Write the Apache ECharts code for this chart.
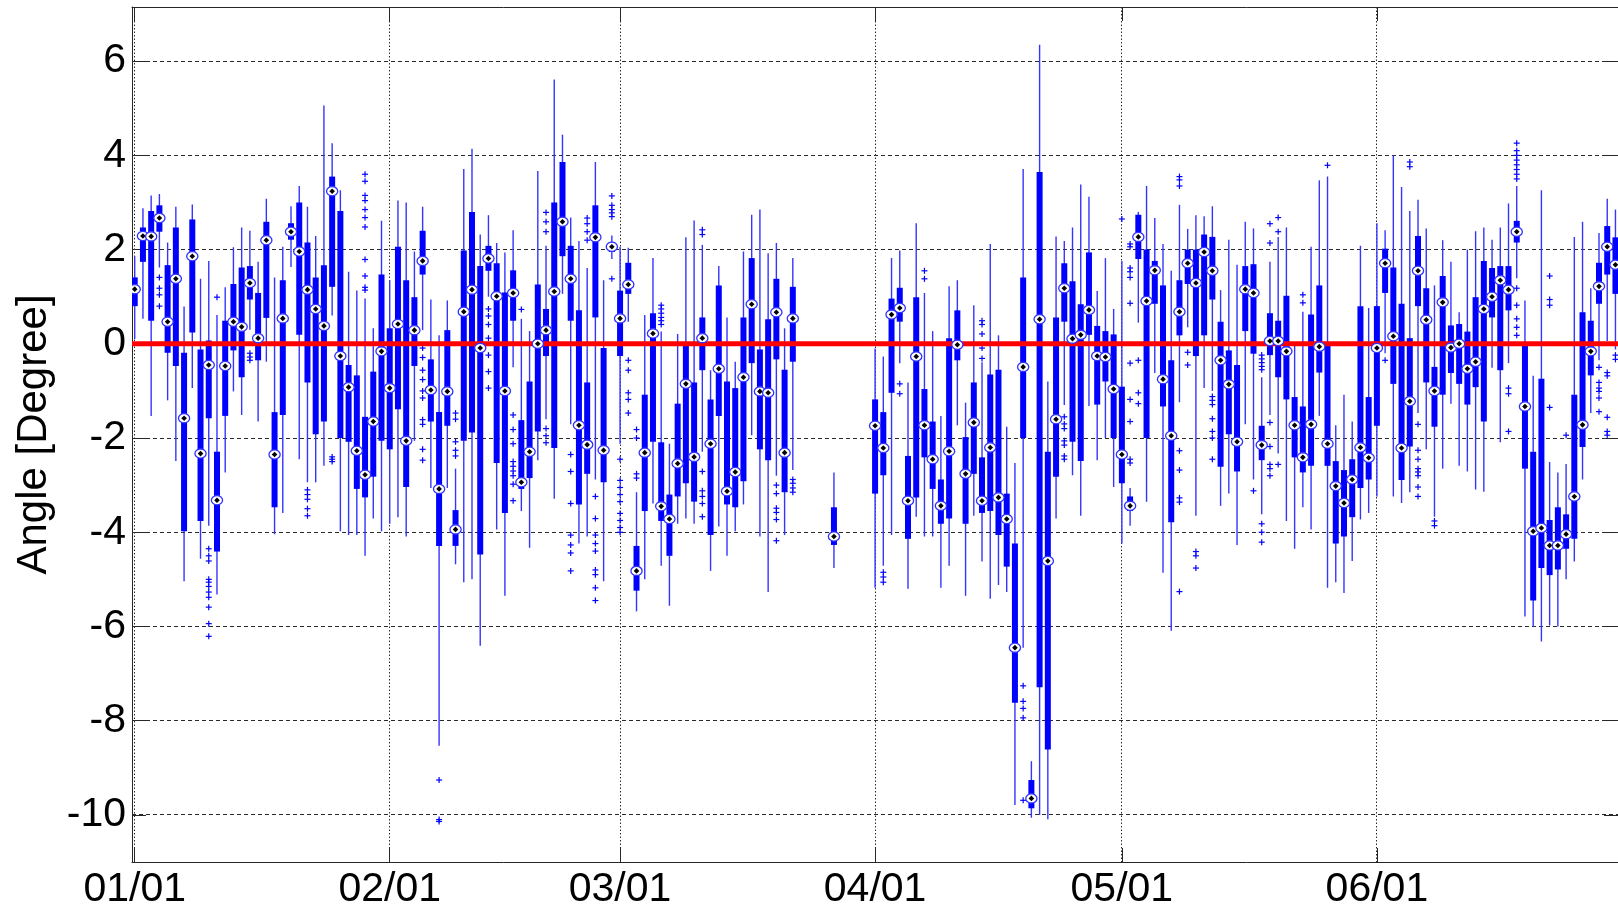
<!DOCTYPE html>
<html>
<head>
<meta charset="utf-8">
<script src="https://cdn.jsdelivr.net/npm/echarts@6/dist/echarts.min.js"></script>
<style>
html,body{margin:0;padding:0;background:#ffffff;}
#chart{width:1618px;height:911px;}
</style>
</head>
<body>
<div id="chart"></div>
<script>
// ---------------- DATA ----------------
// day of year (0 = 01/01)
const days = [
  0,1,2,3,4,5,6,7,8,9,
  10,11,12,13,14,15,16,17,18,19,
  20,21,22,23,24,25,26,27,28,29,
  30,31,32,33,34,35,36,37,38,39,
  40,41,42,43,44,45,46,47,48,49,
  50,51,52,53,54,55,56,57,58,59,
  60,61,62,63,64,65,66,67,68,69,
  70,71,72,73,74,75,76,77,78,79,
  80,
  85,
  90,91,92,93,94,95,96,97,98,99,
  100,101,102,103,104,105,106,107,108,109,
  110,111,112,113,114,115,116,117,118,119,
  120,121,122,123,124,125,126,127,128,129,
  130,131,132,133,134,135,136,137,138,139,
  140,141,142,143,144,145,146,147,148,149,
  150,151,152,153,154,155,156,157,158,159,
  160,161,162,163,164,165,166,167,168,169,
  170,171,172,173,174,175,176,177,178,179,180
];
const whiskerLow = [
  0.1,0.53,-1.53,1.62,-1.2,-2.49,-5.04,-0.94,-4.56,-3.86,
  -5.32,-2.73,-1.01,-1.51,0.3,-1.65,-0.38,-4.04,-3.59,1.63,
  -2.45,-2.94,-2.94,-2.59,0.6,-3.98,-4.06,-4.06,-4.5,-3.71,
  -3.98,-3.82,-3.68,-4.09,-2.06,0.29,-3.06,-8.53,-3.06,-4.68,
  -5.06,-5.0,-6.41,1.0,-3.94,-5.35,-0.5,-3.55,-4.33,-2.47,
  -1.6,-3.29,1.06,-1.71,-4.24,-4.09,-2.88,-5.04,1.8,-2.12,
  0.47,-5.68,-5.0,-3.39,-4.71,-5.56,-3.82,-3.71,-3.82,-2.29,
  -4.82,-3.88,-4.5,-3.98,-3.41,-1.94,-4.09,-5.27,-2.8,-4.06,
  -2.68,
  -4.76,
  -5.18,-4.71,-4.06,-0.41,-5.2,-3.67,-4.09,-4.09,-5.18,-4.71,
  -1.73,-5.35,-3.65,-4.62,-5.41,-5.12,-5.27,-9.79,-6.45,-10.06,
  -10.0,-10.09,-3.71,-1.3,-2.79,-3.65,-1.32,-2.47,-2.0,-3.04,
  -4.24,-3.86,0.45,-3.35,-0.62,-4.86,-6.09,-1.24,0.35,-3.65,
  -0.94,-1.0,-3.44,-3.18,-4.27,-1.71,-2.88,-3.62,-1.51,-2.33,
  -3.76,-4.35,-3.47,-3.94,-1.53,-5.18,-5.06,-5.29,-4.61,-3.73,
  -3.59,-3.24,-0.2,-3.24,-3.38,-3.15,-1.47,-2.24,-3.67,-2.65,
  -1.27,-2.59,-2.71,-3.09,-3.14,-0.51,-2.09,-0.41,1.39,-5.79,
  -6.0,-6.32,-5.98,-6.0,-5.0,-4.62,-2.88,-1.47,-0.35,0.06,-0.12
];
const q1 = [
  0.8,1.74,0.49,2.38,-0.19,-0.47,-3.98,0.24,-3.76,-1.58,
  -4.41,-1.53,-0.14,-0.71,0.94,-0.35,0.55,-3.47,-1.51,2.21,
  0.19,-0.82,-1.92,-1.65,1.21,-2.0,-2.08,-3.08,-3.26,-2.82,
  -2.06,-2.24,-1.39,-3.04,-0.47,1.47,-1.65,-4.29,-1.74,-4.29,
  -2.06,-1.88,-4.47,1.55,-2.53,-3.59,0.49,-3.08,-2.85,-1.86,
  -0.26,-2.21,1.86,0.49,-3.41,-2.76,0.56,-2.94,1.95,-0.26,
  1.06,-5.24,-3.55,-2.08,-3.76,-4.5,-3.24,-2.96,-3.35,-0.56,
  -4.06,-1.53,-3.41,-3.47,-2.92,-0.41,-2.24,-2.47,-0.33,-3.15,
  -0.38,
  -4.27,
  -3.18,-2.79,-1.04,0.47,-4.14,-3.26,-2.41,-3.08,-3.82,-3.71,
  -0.35,-3.82,-2.76,-3.59,-3.55,-4.06,-4.73,-7.62,-2.0,-9.86,
  -7.29,-8.61,-2.82,0.47,-2.08,-2.49,0.19,-1.29,-0.8,-2.0,
  -2.96,-3.55,1.8,-2.0,0.85,-1.33,-3.79,0.18,1.27,-0.26,
  0.18,0.94,-2.61,-1.92,-2.71,0.27,-0.21,-2.47,-0.24,-0.71,
  -1.18,-2.41,-2.73,-2.59,-0.61,-2.59,-4.24,-4.09,-3.68,-3.06,
  -2.88,-1.74,1.08,-0.85,-2.89,-2.18,0.8,-0.82,-1.76,-1.08,
  -0.62,-0.85,-1.29,-0.92,-1.65,0.56,-0.56,0.71,2.15,-2.65,
  -5.45,-4.76,-4.91,-4.79,-4.35,-4.14,-2.19,-0.67,0.85,1.47,1.06
];
const median = [
  1.16,2.29,2.28,2.67,0.47,1.38,-1.58,1.86,-2.33,-0.45,
  -3.32,-0.47,0.47,0.36,1.29,0.12,2.2,-2.35,0.54,2.38,
  1.96,1.15,0.74,0.38,3.24,-0.26,-0.92,-2.27,-2.78,-1.65,
  -0.16,-0.94,0.42,-2.06,0.29,1.76,-0.98,-3.08,-1.01,-3.94,
  0.68,1.15,-0.09,1.81,1.01,-1.0,1.08,-2.94,-2.29,0.0,
  0.29,1.11,2.59,1.38,-1.73,-2.14,2.26,-2.26,2.06,0.54,
  1.26,-4.82,-2.31,0.22,-3.45,-3.72,-2.54,-0.85,-2.4,0.12,
  -2.12,-0.53,-3.13,-2.72,-0.71,0.84,-1.01,-1.04,0.67,-2.31,
  0.54,
  -4.09,
  -1.74,-2.21,0.62,0.76,-3.33,-0.27,-1.73,-2.45,-3.44,-2.28,
  -0.02,-2.76,-1.67,-3.33,-2.2,-3.26,-3.72,-6.45,-0.49,-9.65,
  0.52,-4.61,-1.6,1.18,0.11,0.19,0.72,-0.26,-0.28,-0.96,
  -2.35,-3.44,2.27,0.91,1.56,-0.75,-1.95,0.68,1.71,1.29,
  1.95,1.55,-0.35,-0.86,-2.08,1.16,1.08,-2.15,0.06,0.06,
  -0.16,-1.73,-2.41,-1.71,-0.06,-2.12,-3.02,-3.38,-2.88,-2.2,
  -2.42,-0.09,1.71,0.16,-2.21,-1.22,1.55,0.51,-1.0,0.88,
  -0.08,0.0,-0.53,-0.38,0.74,1.0,1.35,1.15,2.38,-1.33,
  -3.98,-3.91,-4.28,-4.28,-4.04,-3.24,-1.72,-0.16,1.22,2.06,1.68
];
const q3 = [
  1.41,2.47,2.82,2.94,1.67,2.47,-0.19,2.64,-0.12,0.07,
  -2.29,0.49,1.27,1.62,1.65,1.08,2.59,-1.45,1.35,2.56,
  3.0,2.15,1.41,1.67,3.55,2.82,-0.45,-0.67,-1.55,-0.59,
  1.47,0.33,2.06,1.35,0.99,2.4,-0.33,-1.45,0.29,-3.53,
  1.98,2.8,1.65,2.08,1.71,1.09,1.56,-1.62,-0.8,1.26,
  0.74,3.0,3.86,2.08,0.71,-0.82,2.94,-0.09,2.15,1.13,
  1.72,-4.29,-1.08,0.65,-2.09,-3.2,-1.27,-0.02,-0.82,0.56,
  -1.18,1.24,-0.8,-0.94,0.56,1.82,-0.12,0.52,1.38,-0.55,
  1.21,
  -3.47,
  -1.18,-1.45,0.96,1.19,-2.38,0.99,-0.96,-1.65,-2.88,0.12,
  0.71,-1.98,-0.82,-2.41,-0.65,-0.55,-3.18,-4.24,1.41,-9.26,
  3.65,-2.29,0.56,1.71,1.33,0.84,1.94,0.38,0.27,0.2,
  -0.91,-3.24,2.74,2.0,1.76,1.24,-0.35,1.35,2.0,2.0,
  2.32,2.27,0.47,-0.14,-0.45,1.65,1.69,-1.74,0.65,0.49,
  1.02,-1.13,-1.33,0.62,1.24,-0.02,-2.49,-2.68,-2.45,0.8,
  -1.13,0.8,2.02,1.62,0.85,0.12,2.29,1.18,-0.49,1.44,
  0.39,0.42,0.26,0.99,1.76,1.61,1.65,1.65,2.61,-0.02,
  -2.29,-0.74,-3.74,-3.47,-3.62,-1.08,0.67,0.49,1.72,2.5,2.26
];
const whiskerHigh = [
  1.86,2.88,3.15,3.18,2.15,2.91,0.79,2.96,1.38,1.76,
  0.61,1.2,2.05,2.47,2.4,1.74,3.08,1.41,2.06,2.92,
  3.35,2.91,2.29,5.06,4.26,3.26,1.53,1.13,0.96,0.33,
  2.61,1.35,3.04,3.0,1.96,2.91,0.94,0.18,0.92,-2.65,
  3.71,4.14,2.32,2.73,2.14,1.94,2.41,0.53,0.27,3.67,
  2.08,5.61,4.44,2.68,2.18,1.61,3.86,1.35,2.3,2.06,
  2.04,-3.15,0.61,1.82,0.26,-2.12,0.21,2.26,2.62,2.1,
  -0.56,1.65,0.56,-0.38,1.96,2.74,2.85,1.92,2.14,0.33,
  1.82,
  -2.73,
  -0.1,-0.27,1.82,1.98,-0.82,2.56,1.08,0.27,-1.53,1.22,
  1.35,-1.25,0.82,-0.39,2.12,0.18,-1.76,-2.53,3.71,-8.86,
  6.35,-0.8,2.28,2.18,2.47,3.38,3.12,1.12,1.82,0.74,
  1.76,-3.06,2.8,3.35,2.67,2.12,1.55,2.95,2.44,2.73,
  2.71,2.92,1.14,2.21,1.68,2.59,2.45,-0.71,1.74,2.27,
  2.47,0.0,0.68,2.06,3.47,3.55,-1.73,-1.08,-1.65,2.08,
  0.76,2.56,2.41,4.0,3.33,2.82,3.06,2.45,1.24,2.2,
  1.74,0.67,2.0,2.39,2.47,2.21,2.47,2.98,3.35,0.92,
  -0.68,3.26,-2.51,-2.73,-2.55,2.27,2.59,1.18,2.35,3.08,2.85
];
// outliers: day and the list of outlier values on that day
const outlierDays = [3,9,10,14,21,24,28,35,37,39,43,46,47,50,53,55,56,58,59,60,61,64,69,78,80,
  91,93,96,103,108,113,120,121,122,127,128,129,131,136,137,138,139,142,145,152,155,156,158,
  167,168,172,174,178,179,180];
const outlierValues = [
  [1.41,1.18,1.04,0.8],
  [-4.35,-4.5,-4.61,-5.0,-5.06,-5.15,-5.27,-5.38,-5.59,-5.94,-6.21],
  [0.99],
  [-0.2,-0.28,-0.35],
  [-3.1,-3.2,-3.3,-3.5,-3.65],
  [-2.4,-2.45,-2.5],
  [3.6,3.45,3.15,3.04,2.85,2.68,2.48,1.79,1.44,1.2,1.14],
  [-0.09,-0.29,-0.56,-0.76,-1.0,-1.15,-1.61,-1.71,-2.24,-2.47],
  [-9.26,-10.1,-10.14],
  [-1.47,-1.6,-2.08,-2.26,-2.38],
  [0.74,0.59,0.41,0.12,-0.24,-0.59,-0.94],
  [-1.51,-1.82,-2.12,-2.5,-2.6,-2.7,-2.8,-2.98,-3.33],
  [0.73],
  [2.79,2.59,2.38,-1.8,-1.95,-2.1],
  [-2.35,-2.71,-3.39,-4.06,-4.27,-4.44,-4.82],
  [2.67,2.55,2.38,2.2],
  [-3.24,-3.71,-4.06,-4.24,-4.4,-4.8,-4.9,-5.18,-5.45],
  [3.14,2.94,2.85,2.78,2.7,1.38],
  [-2.45,-2.9,-3.05,-3.2,-3.35,-3.6,-3.75,-3.9,-4.0],
  [-0.35,-0.56,-1.04,-1.18,-1.47],
  [-1.82,-2.0,-2.76,-2.85],
  [0.82,0.74,0.65,0.56,0.49,0.41],
  [2.42,2.32,-2.71,-3.12,-3.24,-3.39,-3.67],
  [-3.0,-3.18,-3.49,-3.58,-3.73,-4.18],
  [-2.88,-2.96,-3.06,-3.15],
  [-4.85,-4.95,-5.06],
  [-0.85,-1.06],
  [1.55,1.38],
  [0.49,0.41,0.21,-0.09,-0.31],
  [-7.26,-7.59,-7.74,-7.94,-9.69],
  [-1.55,-1.7,-1.8,-2.06,-2.15,-2.38,-2.45],
  [2.65],
  [2.12,2.06,1.61,1.53,1.41,0.86,-0.41,-1.18,-1.65,-2.45,-2.53],
  [-0.35,-1.04,-1.27],
  [3.55,3.48,3.35,-2.27,-2.68,-3.27,-3.36,-5.26],
  [-0.18,-0.45],
  [-4.41,-4.5,-4.76],
  [-1.12,-1.2,-1.29,-1.59,-1.86,-2.0,-2.45],
  [-3.12],
  [-0.24,-0.32,-0.4,-0.48,-0.55,-3.82,-4.0,-4.21],
  [2.55,2.14,-1.67,-2.18,-2.56,-2.65,-2.8],
  [2.68,2.38,-2.56],
  [1.04,0.87],
  [3.79],
  [-0.35],
  [3.86,3.76],
  [-1.71,-2.26,-2.45,-2.65,-2.72,-2.8,-3.04,-3.24],
  [-3.76,-3.86],
  [-0.94,-1.06,-1.86],
  [4.26,4.1,4.0,3.9,3.8,3.7,3.6,3.5,1.18,0.82,0.53,0.35,0.18],
  [1.44,0.94,0.82,-1.35],
  [-1.94],
  [-0.5,-0.82,-0.94,-1.01,-1.15,-1.44],
  [-0.61,-0.68,-1.56,-1.86,-1.94],
  [-0.24,-0.33]
];
// axis ticks
const monthTickDays = [0, 31, 59, 90, 120, 151];
const monthTickLabels = ['01/01', '02/01', '03/01', '04/01', '05/01', '06/01'];
const yTickValues = [-10, -8, -6, -4, -2, 0, 2, 4, 6];
const referenceLevel = [0];

// ---------------- CHART ----------------
const X_MIN = -0.33, X_MAX = 180.31, Y_MIN = -11, Y_MAX = 7.15;
const FONT = '"Liberation Sans", Arial, sans-serif';
const AXIS_COLOR = '#262626';

const boxData = days.map((d, i) => [d, whiskerLow[i], q1[i], median[i], q3[i], whiskerHigh[i]]);
const medianData = days.map((d, i) => [d, median[i]]);
const outlierData = [];
outlierDays.forEach((d, i) => outlierValues[i].forEach(v => outlierData.push([d, v])));

function crisp(v) { return Math.round(v - 0.5) + 0.5; }

const chart = echarts.init(document.getElementById('chart'), null, { renderer: 'canvas' });

const axisLineStyle = { show: true, onZero: false, lineStyle: { color: AXIS_COLOR, width: 1 } };

const option = {
  animation: false,
  backgroundColor: '#ffffff',
  grid: { left: 132, right: 0, top: 7, bottom: 49, containLabel: false },
  xAxis: [
    {
      type: 'value', min: X_MIN, max: X_MAX, position: 'bottom',
      axisLine: axisLineStyle,
      axisTick: { show: true, inside: true, length: 14, customValues: monthTickDays, lineStyle: { color: AXIS_COLOR } },
      axisLabel: {
        show: true, customValues: monthTickDays, margin: 7,
        fontSize: 41, fontFamily: FONT, color: '#000',
        formatter: v => monthTickLabels[monthTickDays.indexOf(Math.round(v))]
      },
      splitLine: { show: false }
    },
    {
      type: 'value', min: X_MIN, max: X_MAX, position: 'top',
      axisLine: axisLineStyle,
      axisTick: { show: true, inside: true, length: 14, customValues: monthTickDays, lineStyle: { color: AXIS_COLOR } },
      axisLabel: { show: false },
      splitLine: { show: false }
    }
  ],
  yAxis: [
    {
      type: 'value', min: Y_MIN, max: Y_MAX, position: 'left',
      name: 'Angle [Degree]', nameLocation: 'middle', nameGap: 76, nameRotate: 90,
      nameTextStyle: { fontSize: 42, fontFamily: FONT, color: '#000' },
      axisLine: axisLineStyle,
      axisTick: { show: true, inside: true, length: 14, customValues: yTickValues, lineStyle: { color: AXIS_COLOR } },
      axisLabel: { show: true, customValues: yTickValues, margin: 6, fontSize: 41, fontFamily: FONT, color: '#000' },
      splitLine: { show: false }
    },
    {
      type: 'value', min: Y_MIN, max: Y_MAX, position: 'right',
      axisLine: axisLineStyle,
      axisTick: { show: true, inside: true, length: 14, customValues: yTickValues, lineStyle: { color: AXIS_COLOR } },
      axisLabel: { show: false },
      splitLine: { show: false }
    }
  ],
  series: [
    {
      // horizontal dashed grid lines
      type: 'custom', z: 1, silent: true,
      data: yTickValues.map(v => [0, v]),
      renderItem: function (params, api) {
        const cs = params.coordSys;
        const y = crisp(api.coord([0, api.value(1)])[1]);
        return { type: 'line', shape: { x1: cs.x, y1: y, x2: cs.x + cs.width, y2: y },
          style: { stroke: '#2a2a2a', lineWidth: 1, lineDash: [4, 3] } };
      }
    },
    {
      // vertical dotted grid lines at month starts
      type: 'custom', z: 1, silent: true,
      data: monthTickDays.map(d => [d, 0]),
      renderItem: function (params, api) {
        const cs = params.coordSys;
        const x = crisp(api.coord([api.value(0), 0])[0]);
        return { type: 'line', shape: { x1: x, y1: cs.y, x2: x, y2: cs.y + cs.height },
          style: { stroke: '#2a2a2a', lineWidth: 1, lineDash: [1.5, 2] } };
      }
    },
    {
      // boxes and whiskers
      type: 'custom', z: 2, clip: true, silent: true,
      data: boxData,
      renderItem: function (params, api) {
        const x = api.coord([api.value(0), 0])[0];
        const yLo = api.coord([0, api.value(1)])[1];
        const yQ1 = api.coord([0, api.value(2)])[1];
        const yQ3 = api.coord([0, api.value(4)])[1];
        const yHi = api.coord([0, api.value(5)])[1];
        return {
          type: 'group',
          children: [
            { type: 'line', shape: { x1: x, y1: yLo, x2: x, y2: yHi },
              style: { stroke: '#3535ff', lineWidth: 1.4 } },
            { type: 'rect', shape: { x: x - 3, y: yQ3, width: 6, height: Math.max(yQ1 - yQ3, 1) },
              style: { fill: '#0000ff' } }
          ]
        };
      }
    },
    {
      // outliers
      type: 'custom', z: 2, clip: true, silent: true,
      data: outlierData,
      renderItem: function (params, api) {
        const p = api.coord([api.value(0), api.value(1)]);
        const s = 3;
        return {
          type: 'group',
          children: [
            { type: 'line', shape: { x1: p[0] - s, y1: p[1], x2: p[0] + s, y2: p[1] }, style: { stroke: '#0000ff', lineWidth: 1.2 } },
            { type: 'line', shape: { x1: p[0], y1: p[1] - s, x2: p[0], y2: p[1] + s }, style: { stroke: '#0000ff', lineWidth: 1.2 } }
          ]
        };
      }
    },
    {
      // red zero reference line
      type: 'custom', z: 3, silent: true,
      data: referenceLevel.map(v => [0, v]),
      renderItem: function (params, api) {
        const cs = params.coordSys;
        const y = api.coord([0, api.value(1)])[1];
        return { type: 'line', shape: { x1: cs.x, y1: y, x2: cs.x + cs.width, y2: y },
          style: { stroke: '#ff0000', lineWidth: 5 } };
      }
    },
    {
      // median markers
      type: 'custom', z: 4, clip: true, silent: true,
      data: medianData,
      renderItem: function (params, api) {
        const p = api.coord([api.value(0), api.value(1)]);
        const d = 2.8;
        return {
          type: 'group',
          children: [
            { type: 'ellipse', shape: { cx: p[0], cy: p[1], rx: 5.6, ry: 4.6 },
              style: { fill: '#ffffff', stroke: '#3030ff', lineWidth: 1.3 } },
            { type: 'polygon', shape: { points: [[p[0], p[1] - d], [p[0] + d, p[1]], [p[0], p[1] + d], [p[0] - d, p[1]]] },
              style: { fill: '#000000' } }
          ]
        };
      }
    }
  ]
};

chart.setOption(option);
</script>
</body>
</html>
